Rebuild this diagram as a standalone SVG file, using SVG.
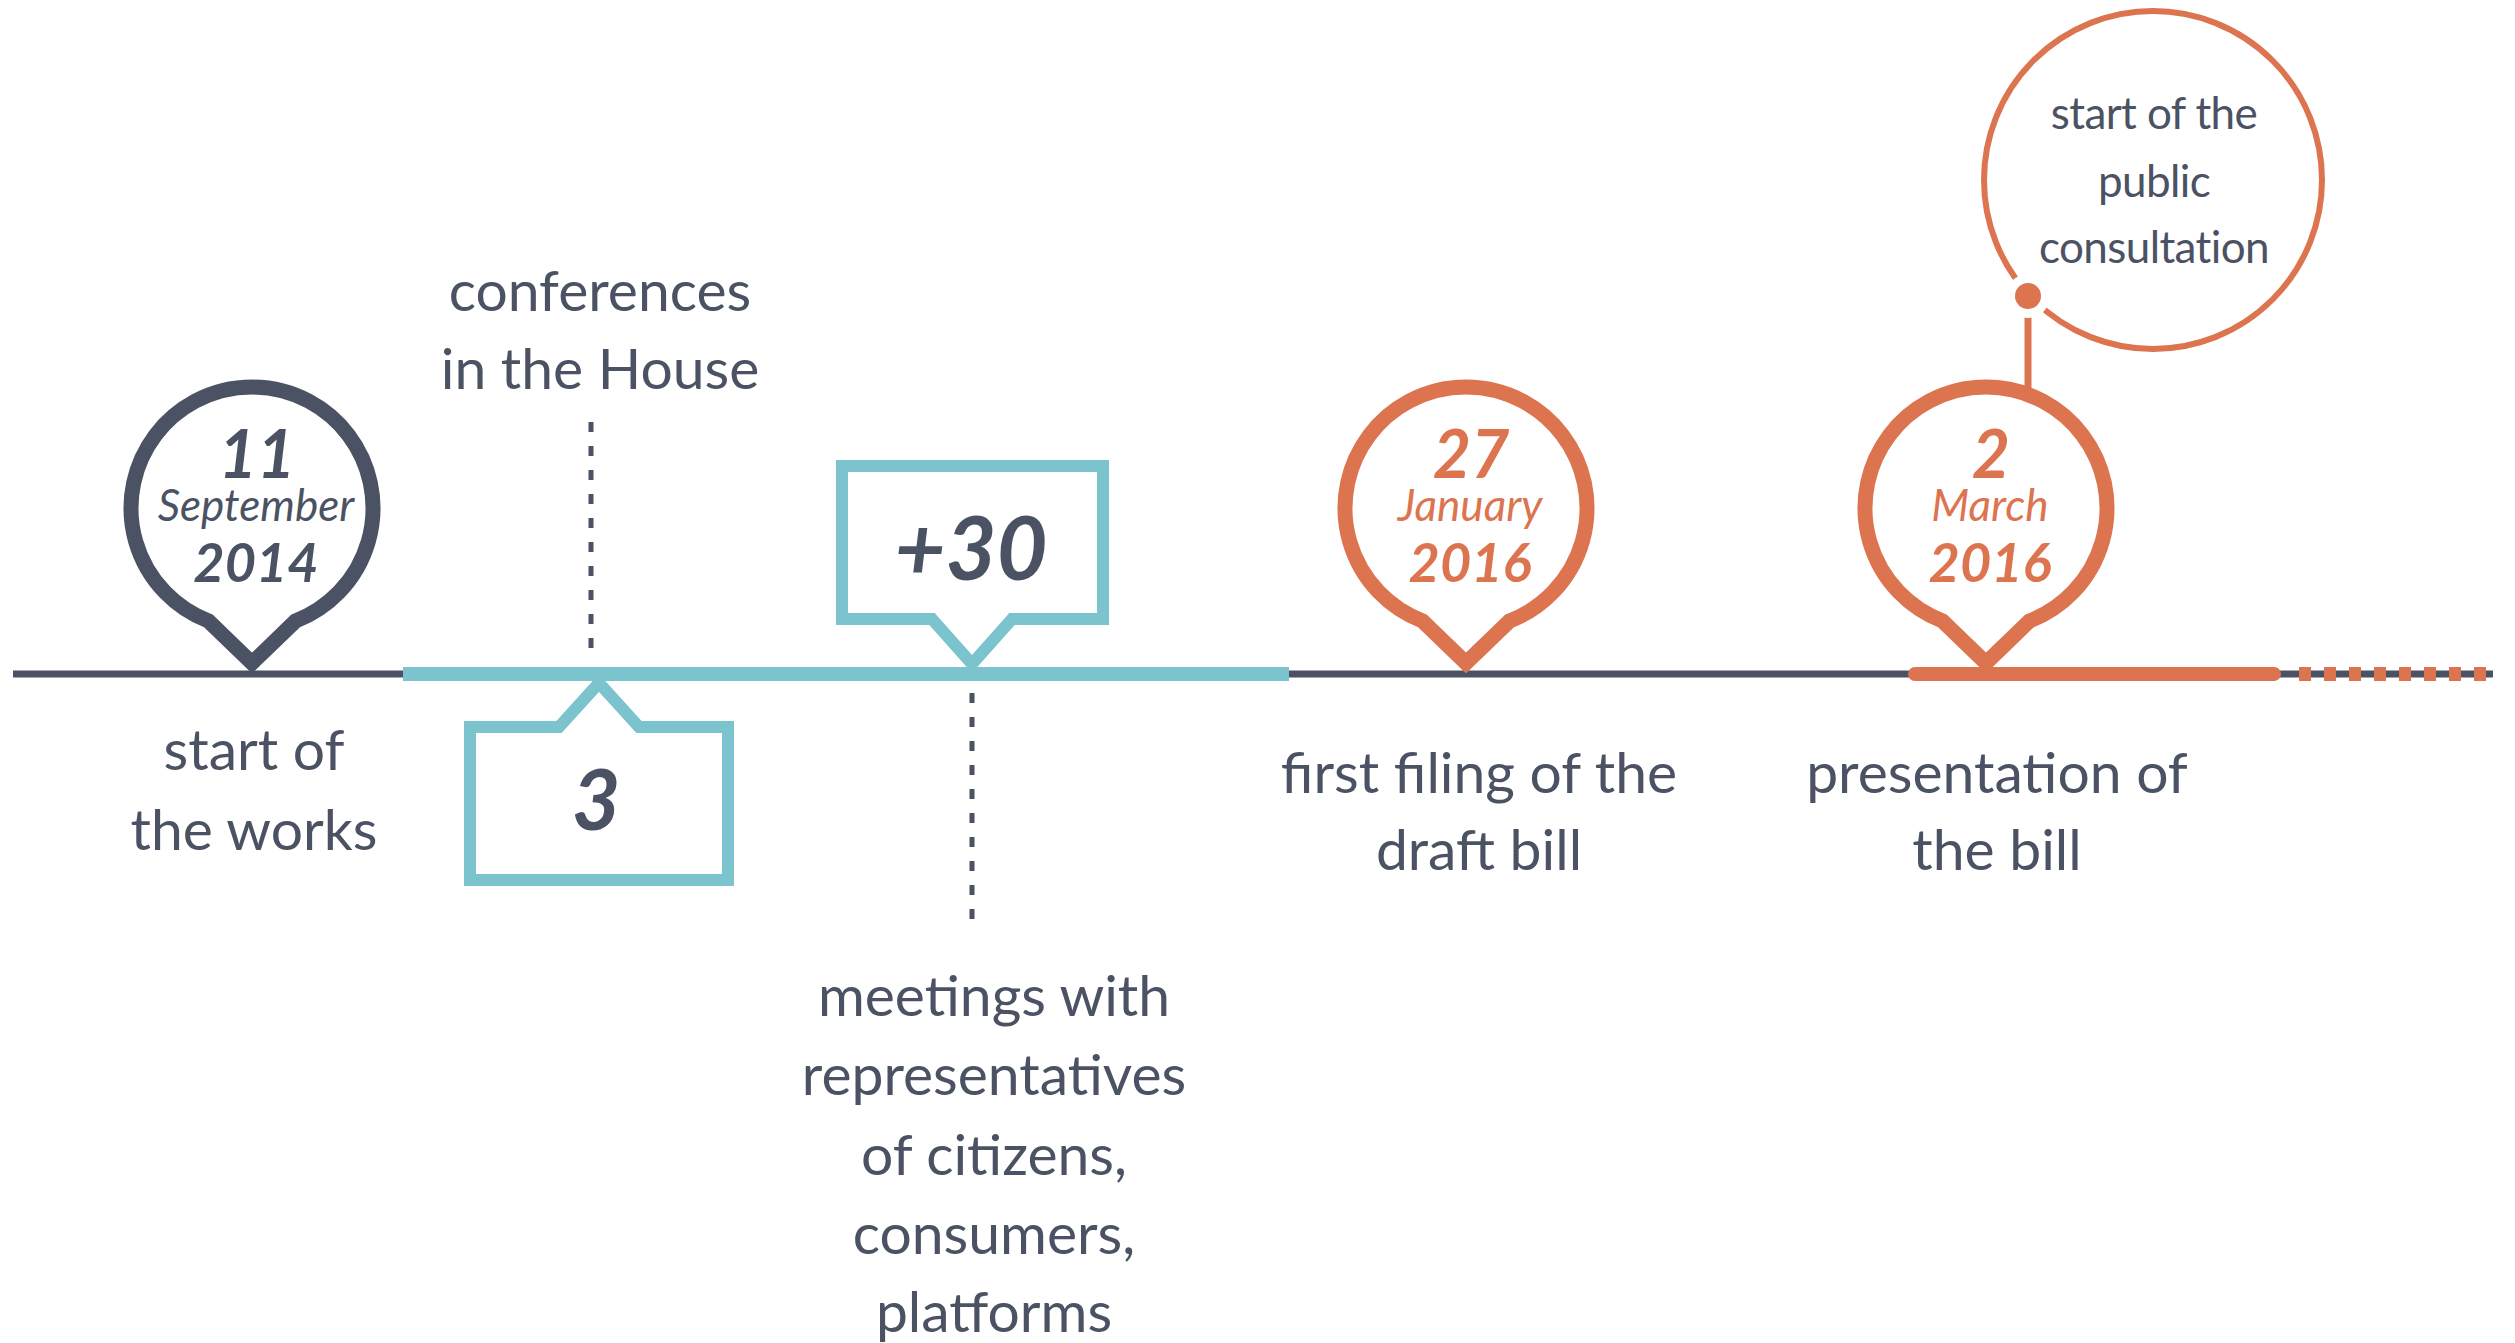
<svg xmlns="http://www.w3.org/2000/svg" width="2515" height="1343" viewBox="0 0 2515 1343">
<style>
.t{font-family:Lato,"Open Sans","Liberation Sans",sans-serif;fill:#4b5263;font-size:57px;text-anchor:middle}
.c{font-family:Lato,"Open Sans","Liberation Sans",sans-serif;fill:#4b5263;font-size:44px;text-anchor:middle;letter-spacing:-0.6px}
.num{font-family:Lato,"Open Sans","Liberation Sans",sans-serif;font-weight:700;font-style:italic;text-anchor:middle}
.mon{font-family:Lato,"Open Sans","Liberation Sans",sans-serif;font-style:italic;text-anchor:middle;font-size:44px}
.pin{fill:#fff;stroke-width:15;stroke-linejoin:miter}
.box{fill:#fff;stroke:#7bc4cd;stroke-width:12;stroke-linejoin:miter}
.dot{stroke:#4b5263;stroke-width:5;stroke-dasharray:10 14;fill:none}
</style>
<g id="connectors">
  <line x1="13" y1="674" x2="2493" y2="674" stroke="#4b5263" stroke-width="7"/>
  <line x1="403" y1="674" x2="1289" y2="674" stroke="#7bc4cd" stroke-width="14"/>
  <line x1="1915" y1="674" x2="2274" y2="674" stroke="#dd7450" stroke-width="14" stroke-linecap="round"/>
  <line x1="2299" y1="674" x2="2493" y2="674" stroke="#dd7450" stroke-width="14" stroke-dasharray="12 13"/>
  <line class="dot" x1="591" y1="422" x2="591" y2="661"/>
  <line class="dot" x1="972" y1="693" x2="972" y2="922"/>
  <line x1="2028" y1="296" x2="2028" y2="398" stroke="#dd7450" stroke-width="7"/>
</g>
<g id="pin-2014">
  <path class="pin" stroke="#4b5263" d="M208.5 621 A121 121 0 1 1 295.5 621 L252 663 Z"/>
  <text class="num" x="257" y="478" font-size="66" fill="#4b5263">11</text>
  <text class="mon" x="256" y="521" fill="#4b5263">September</text>
  <text class="num" x="256" y="582" font-size="54" fill="#4b5263">2014</text>
</g>
<g id="label-start">
  <text class="t" x="254" y="770">start of</text>
  <text class="t" x="254" y="850">the works</text>
</g>
<g id="label-conferences">
  <text class="t" x="600" y="311">conferences</text>
  <text class="t" x="600" y="389">in the House</text>
</g>
<g id="box-3">
  <path class="box" d="M470 727 L559 727 L599 683 L639 727 L728 727 L728 880 L470 880 Z"/>
  <text class="num" x="596" y="830" font-size="84" fill="#4b5263">3</text>
</g>
<g id="box-30">
  <path class="box" d="M842 466 L1103 466 L1103 619 L1012 619 L972 664 L932 619 L842 619 Z"/>
  <text class="num" x="971" y="580" font-size="88" fill="#4b5263">+30</text>
</g>
<g id="label-meetings">
  <text class="t" x="994" y="1016">meetings with</text>
  <text class="t" x="994" y="1095">representatives</text>
  <text class="t" x="994" y="1175">of citizens,</text>
  <text class="t" x="994" y="1254">consumers,</text>
  <text class="t" x="994" y="1332">platforms</text>
</g>
<g id="pin-2016-jan">
  <path class="pin" stroke="#dd7450" d="M1422.5 621 A121 121 0 1 1 1509.5 621 L1466 663 Z"/>
  <text class="num" x="1471" y="478" font-size="66" fill="#dd7450">27</text>
  <text class="mon" x="1470" y="521" fill="#dd7450">January</text>
  <text class="num" x="1470" y="582" font-size="54" fill="#dd7450">2016</text>
</g>
<g id="label-filing">
  <text class="t" x="1479" y="793">first filing of the</text>
  <text class="t" x="1479" y="870">draft bill</text>
</g>
<g id="pin-2016-mar">
  <path class="pin" stroke="#dd7450" d="M1942.5 621 A121 121 0 1 1 2029.5 621 L1986 663 Z"/>
  <text class="num" x="1991" y="478" font-size="66" fill="#dd7450">2</text>
  <text class="mon" x="1990" y="521" fill="#dd7450">March</text>
  <text class="num" x="1990" y="582" font-size="54" fill="#dd7450">2016</text>
</g>
<g id="label-presentation">
  <text class="t" x="1997" y="793">presentation of</text>
  <text class="t" x="1997" y="870">the bill</text>
</g>
<g id="consultation">
  <circle cx="2153" cy="180" r="169" fill="#fff" stroke="#dd7450" stroke-width="6"/>
  <circle cx="2028" cy="296" r="22" fill="#fff"/>
  <circle cx="2028" cy="296" r="13" fill="#dd7450"/>
  <text class="c" x="2154" y="129">start of the</text>
  <text class="c" x="2154" y="197">public</text>
  <text class="c" x="2154" y="263">consultation</text>
</g>
</svg>
